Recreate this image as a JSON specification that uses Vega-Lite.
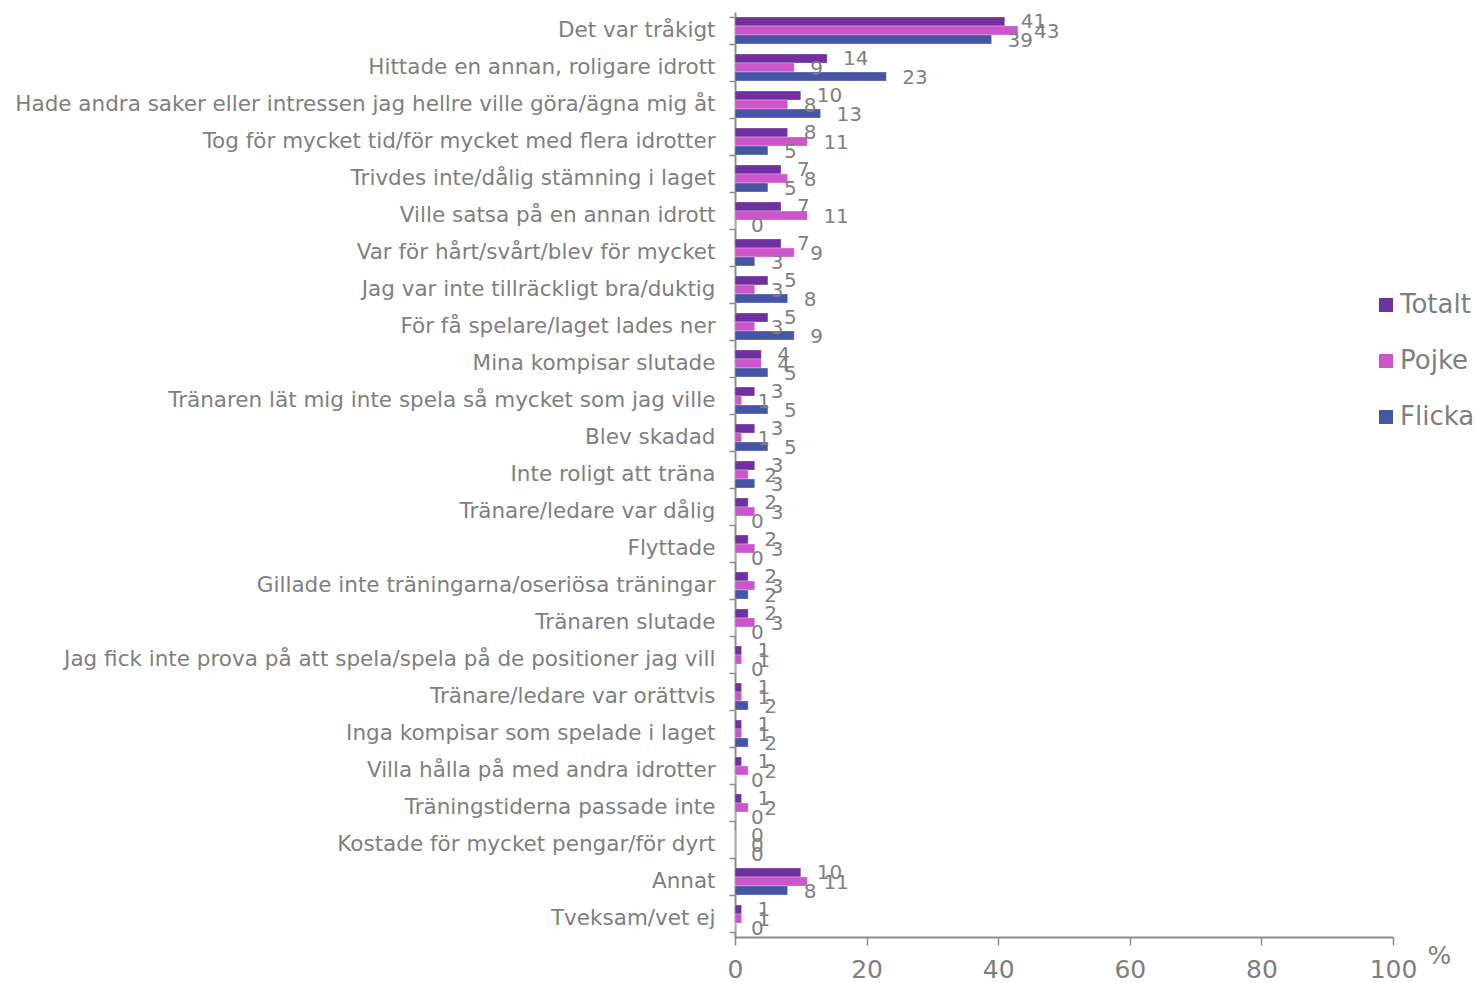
{
  "$schema": "https://vega.github.io/schema/vega-lite/v6.json",
  "width": 658,
  "height": 925,
  "autosize": {"type": "none"},
  "padding": {"left": 735, "top": 12, "right": 84, "bottom": 46},
  "background": "white",
  "config": {
    "font": "DejaVu Sans",
    "view": {"stroke": null}
  },
  "data": {
    "values": [
      {"orsak": "Det var tråkigt", "grupp": "Totalt", "andel": 41},
      {"orsak": "Det var tråkigt", "grupp": "Pojke", "andel": 43},
      {"orsak": "Det var tråkigt", "grupp": "Flicka", "andel": 39},
      {"orsak": "Hittade en annan, roligare idrott", "grupp": "Totalt", "andel": 14},
      {"orsak": "Hittade en annan, roligare idrott", "grupp": "Pojke", "andel": 9},
      {"orsak": "Hittade en annan, roligare idrott", "grupp": "Flicka", "andel": 23},
      {"orsak": "Hade andra saker eller intressen jag hellre ville göra/ägna mig åt", "grupp": "Totalt", "andel": 10},
      {"orsak": "Hade andra saker eller intressen jag hellre ville göra/ägna mig åt", "grupp": "Pojke", "andel": 8},
      {"orsak": "Hade andra saker eller intressen jag hellre ville göra/ägna mig åt", "grupp": "Flicka", "andel": 13},
      {"orsak": "Tog för mycket tid/för mycket med flera idrotter", "grupp": "Totalt", "andel": 8},
      {"orsak": "Tog för mycket tid/för mycket med flera idrotter", "grupp": "Pojke", "andel": 11},
      {"orsak": "Tog för mycket tid/för mycket med flera idrotter", "grupp": "Flicka", "andel": 5},
      {"orsak": "Trivdes inte/dålig stämning i laget", "grupp": "Totalt", "andel": 7},
      {"orsak": "Trivdes inte/dålig stämning i laget", "grupp": "Pojke", "andel": 8},
      {"orsak": "Trivdes inte/dålig stämning i laget", "grupp": "Flicka", "andel": 5},
      {"orsak": "Ville satsa på en annan idrott", "grupp": "Totalt", "andel": 7},
      {"orsak": "Ville satsa på en annan idrott", "grupp": "Pojke", "andel": 11},
      {"orsak": "Ville satsa på en annan idrott", "grupp": "Flicka", "andel": 0},
      {"orsak": "Var för hårt/svårt/blev för mycket", "grupp": "Totalt", "andel": 7},
      {"orsak": "Var för hårt/svårt/blev för mycket", "grupp": "Pojke", "andel": 9},
      {"orsak": "Var för hårt/svårt/blev för mycket", "grupp": "Flicka", "andel": 3},
      {"orsak": "Jag var inte tillräckligt bra/duktig", "grupp": "Totalt", "andel": 5},
      {"orsak": "Jag var inte tillräckligt bra/duktig", "grupp": "Pojke", "andel": 3},
      {"orsak": "Jag var inte tillräckligt bra/duktig", "grupp": "Flicka", "andel": 8},
      {"orsak": "För få spelare/laget lades ner", "grupp": "Totalt", "andel": 5},
      {"orsak": "För få spelare/laget lades ner", "grupp": "Pojke", "andel": 3},
      {"orsak": "För få spelare/laget lades ner", "grupp": "Flicka", "andel": 9},
      {"orsak": "Mina kompisar slutade", "grupp": "Totalt", "andel": 4},
      {"orsak": "Mina kompisar slutade", "grupp": "Pojke", "andel": 4},
      {"orsak": "Mina kompisar slutade", "grupp": "Flicka", "andel": 5},
      {"orsak": "Tränaren lät mig inte spela så mycket som jag ville", "grupp": "Totalt", "andel": 3},
      {"orsak": "Tränaren lät mig inte spela så mycket som jag ville", "grupp": "Pojke", "andel": 1},
      {"orsak": "Tränaren lät mig inte spela så mycket som jag ville", "grupp": "Flicka", "andel": 5},
      {"orsak": "Blev skadad", "grupp": "Totalt", "andel": 3},
      {"orsak": "Blev skadad", "grupp": "Pojke", "andel": 1},
      {"orsak": "Blev skadad", "grupp": "Flicka", "andel": 5},
      {"orsak": "Inte roligt att träna", "grupp": "Totalt", "andel": 3},
      {"orsak": "Inte roligt att träna", "grupp": "Pojke", "andel": 2},
      {"orsak": "Inte roligt att träna", "grupp": "Flicka", "andel": 3},
      {"orsak": "Tränare/ledare var dålig", "grupp": "Totalt", "andel": 2},
      {"orsak": "Tränare/ledare var dålig", "grupp": "Pojke", "andel": 3},
      {"orsak": "Tränare/ledare var dålig", "grupp": "Flicka", "andel": 0},
      {"orsak": "Flyttade", "grupp": "Totalt", "andel": 2},
      {"orsak": "Flyttade", "grupp": "Pojke", "andel": 3},
      {"orsak": "Flyttade", "grupp": "Flicka", "andel": 0},
      {"orsak": "Gillade inte träningarna/oseriösa träningar", "grupp": "Totalt", "andel": 2},
      {"orsak": "Gillade inte träningarna/oseriösa träningar", "grupp": "Pojke", "andel": 3},
      {"orsak": "Gillade inte träningarna/oseriösa träningar", "grupp": "Flicka", "andel": 2},
      {"orsak": "Tränaren slutade", "grupp": "Totalt", "andel": 2},
      {"orsak": "Tränaren slutade", "grupp": "Pojke", "andel": 3},
      {"orsak": "Tränaren slutade", "grupp": "Flicka", "andel": 0},
      {"orsak": "Jag fick inte prova på att spela/spela på de positioner jag vill", "grupp": "Totalt", "andel": 1},
      {"orsak": "Jag fick inte prova på att spela/spela på de positioner jag vill", "grupp": "Pojke", "andel": 1},
      {"orsak": "Jag fick inte prova på att spela/spela på de positioner jag vill", "grupp": "Flicka", "andel": 0},
      {"orsak": "Tränare/ledare var orättvis", "grupp": "Totalt", "andel": 1},
      {"orsak": "Tränare/ledare var orättvis", "grupp": "Pojke", "andel": 1},
      {"orsak": "Tränare/ledare var orättvis", "grupp": "Flicka", "andel": 2},
      {"orsak": "Inga kompisar som spelade i laget", "grupp": "Totalt", "andel": 1},
      {"orsak": "Inga kompisar som spelade i laget", "grupp": "Pojke", "andel": 1},
      {"orsak": "Inga kompisar som spelade i laget", "grupp": "Flicka", "andel": 2},
      {"orsak": "Villa hålla på med andra idrotter", "grupp": "Totalt", "andel": 1},
      {"orsak": "Villa hålla på med andra idrotter", "grupp": "Pojke", "andel": 2},
      {"orsak": "Villa hålla på med andra idrotter", "grupp": "Flicka", "andel": 0},
      {"orsak": "Träningstiderna passade inte", "grupp": "Totalt", "andel": 1},
      {"orsak": "Träningstiderna passade inte", "grupp": "Pojke", "andel": 2},
      {"orsak": "Träningstiderna passade inte", "grupp": "Flicka", "andel": 0},
      {"orsak": "Kostade för mycket pengar/för dyrt", "grupp": "Totalt", "andel": 0},
      {"orsak": "Kostade för mycket pengar/för dyrt", "grupp": "Pojke", "andel": 0},
      {"orsak": "Kostade för mycket pengar/för dyrt", "grupp": "Flicka", "andel": 0},
      {"orsak": "Annat", "grupp": "Totalt", "andel": 10},
      {"orsak": "Annat", "grupp": "Pojke", "andel": 11},
      {"orsak": "Annat", "grupp": "Flicka", "andel": 8},
      {"orsak": "Tveksam/vet ej", "grupp": "Totalt", "andel": 1},
      {"orsak": "Tveksam/vet ej", "grupp": "Pojke", "andel": 1},
      {"orsak": "Tveksam/vet ej", "grupp": "Flicka", "andel": 0}
    ]
  },
  "encoding": {
    "y": {
      "field": "orsak",
      "type": "nominal",
      "sort": null,
      "scale": {"paddingInner": 0.27, "paddingOuter": 0.135},
      "axis": {
        "title": null,
        "labelFontSize": 21.5,
        "labelColor": "#7f7f7f",
        "labelPadding": 14,
        "labelLimit": 800,
        "domainColor": "#8c8c8c",
        "domainWidth": 2,
        "tickColor": "#8c8c8c",
        "tickWidth": 1.5,
        "tickSize": 6,
        "tickBand": "extent"
      }
    },
    "yOffset": {
      "field": "grupp",
      "type": "nominal",
      "scale": {"domain": ["Totalt", "Pojke", "Flicka"], "paddingInner": 0, "paddingOuter": 0}
    },
    "x": {
      "field": "andel",
      "type": "quantitative",
      "scale": {"domain": [0, 100], "nice": false},
      "axis": {
        "values": [0, 20, 40, 60, 80, 100],
        "grid": false,
        "labelFlush": false,
        "labelFontSize": 25,
        "labelColor": "#7f7f7f",
        "labelPadding": 12,
        "domainColor": "#8c8c8c",
        "domainWidth": 2,
        "tickColor": "#8c8c8c",
        "tickWidth": 1.5,
        "tickSize": 8,
        "title": "%",
        "titleFontSize": 25,
        "titleFontWeight": "normal",
        "titleColor": "#7f7f7f",
        "titleX": 692,
        "titleY": 18,
        "titleAlign": "left",
        "titleBaseline": "middle",
        "titleAngle": 0
      }
    }
  },
  "layer": [
    {
      "mark": {"type": "bar", "stroke": "white", "strokeWidth": 0.5, "strokeOpacity": 0.6},
      "encoding": {
        "color": {
          "field": "grupp",
          "type": "nominal",
          "scale": {"domain": ["Totalt", "Pojke", "Flicka"], "range": ["#7030A0", "#CC55CC", "#4655A5"]},
          "legend": {
            "title": null,
            "orient": "none",
            "legendX": 638,
            "legendY": 280,
            "symbolType": "square",
            "symbolSize": 196,
            "symbolStrokeWidth": 0,
            "labelFontSize": 26,
            "labelColor": "#7f7f7f",
            "labelOffset": 1,
            "rowPadding": 30
          }
        }
      }
    },
    {
      "mark": {"type": "text", "align": "left", "baseline": "middle", "dx": 16, "dy": 1, "fontSize": 20, "color": "#7f7f7f"},
      "encoding": {
        "text": {"field": "andel", "type": "quantitative"}
      }
    }
  ]
}
